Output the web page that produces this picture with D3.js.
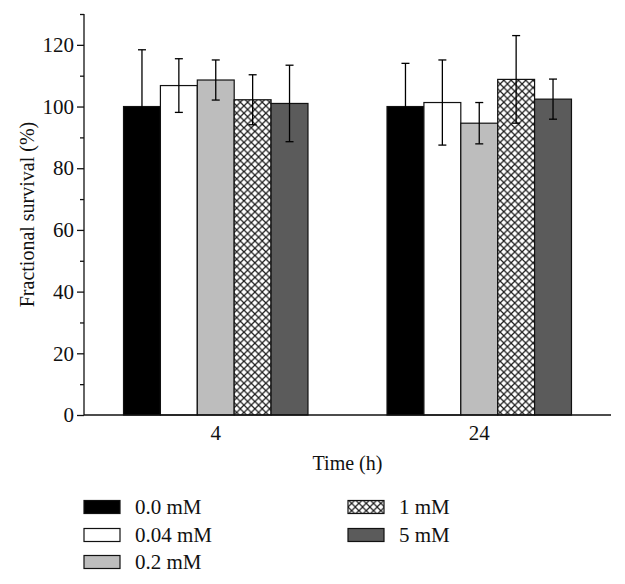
<!DOCTYPE html>
<html>
<head>
<meta charset="utf-8">
<script src="https://cdn.jsdelivr.net/npm/d3@7"></script>
<style>
  body { margin: 0; background: #fff; }
  text { font-family: "Liberation Serif", "DejaVu Serif", serif; fill: #111; }
</style>
</head>
<body>
<svg id="chart" width="625" height="584"></svg>
<script>
// data
var times = ["4", "24"];
var doses = ["0.0 mM", "0.04 mM", "0.2 mM", "1 mM", "5 mM"];
var means = [
  [100, 106.8, 108.6, 102.2, 101.0],   // 4 h
  [100, 101.3, 94.6, 108.8, 102.4]     // 24 h
];
var errs = [
  [18.4, 8.7, 6.5, 8.1, 12.4],
  [14.0, 13.8, 6.7, 14.2, 6.5]
];
var yTicks = [0, 20, 40, 60, 80, 100, 120];

var fills = ["#000", "#fff", "#bdbdbd", "url(#xhatch)", "#5b5b5b"];

var svg = d3.select("#chart");
// note: "top" is taken by window.top, so plot edges get their own names
var plotL = 84, plotR = 611, plotT = 14, plotB = 415;

// crosshatch pattern for the 1 mM bars
var pat = svg.append("defs").append("pattern")
  .attr("id", "xhatch")
  .attr("patternUnits", "userSpaceOnUse")
  .attr("width", 7.3).attr("height", 7.3);
pat.append("rect").attr("width", 7.3).attr("height", 7.3).attr("fill", "#fff");
pat.append("path")
  .attr("d", "M0,0L7.3,7.3M7.3,0L0,7.3")
  .attr("stroke", "#1a1a1a").attr("stroke-width", 1.2);

var x = d3.scaleBand().domain(times).range([plotL, plotR]).paddingInner(0.3).paddingOuter(0.15);
var xi = d3.scaleBand().domain(doses).range([0, x.bandwidth()]);
var y = d3.scaleLinear().domain([0, 130]).range([plotB, plotT]);

// y axis, major + minor ticks
svg.append("g")
  .attr("transform", "translate(" + plotL + ",0)")
  .call(d3.axisLeft(y).tickValues(d3.range(10, 140, 20)).tickSize(4).tickFormat(""))
  .call(g => g.select(".domain").remove());
svg.append("g")
  .attr("transform", "translate(" + plotL + ",0)")
  .call(d3.axisLeft(y).tickValues(yTicks).tickSize(7).tickPadding(3))
  .call(g => g.select(".domain").attr("d", "M0," + y(130) + "V" + y(0)))
  .call(g => g.selectAll("text").style("font-size", "21px").attr("font-family", null));

svg.selectAll(".tick line, .domain").attr("stroke", "#111").attr("stroke-width", 1.3);

// bars
var grp = svg.selectAll(".grp")
  .data(times)
  .join("g")
  .attr("class", "grp")
  .attr("transform", d => "translate(" + x(d) + ",0)");

grp.selectAll("rect")
  .data((d, i) => doses.map((k, j) => ({ k: k, j: j, v: means[i][j], e: errs[i][j] })))
  .join("rect")
  .attr("x", d => xi(d.k))
  .attr("y", d => y(d.v))
  .attr("width", xi.bandwidth())
  .attr("height", d => y(0) - y(d.v))
  .attr("fill", d => fills[d.j])
  .attr("stroke", "#111")
  .attr("stroke-width", 1.2);

// error bars
var eb = grp.selectAll(".eb")
  .data((d, i) => doses.map((k, j) => ({ k: k, v: means[i][j], e: errs[i][j] })))
  .join("g")
  .attr("class", "eb")
  .attr("stroke", "#000").attr("stroke-width", 1.3);
eb.append("line")
  .attr("x1", d => xi(d.k) + xi.bandwidth() / 2)
  .attr("x2", d => xi(d.k) + xi.bandwidth() / 2)
  .attr("y1", d => y(d.v + d.e))
  .attr("y2", d => y(d.v - d.e));
[1, -1].forEach(function(s) {
  eb.append("line")
    .attr("x1", d => xi(d.k) + xi.bandwidth() / 2 - 4)
    .attr("x2", d => xi(d.k) + xi.bandwidth() / 2 + 4)
    .attr("y1", d => y(d.v + s * d.e))
    .attr("y2", d => y(d.v + s * d.e));
});

// x axis line (no ticks)
svg.append("line")
  .attr("x1", plotL).attr("x2", plotR)
  .attr("y1", plotB).attr("y2", plotB)
  .attr("stroke", "#111").attr("stroke-width", 1.3);

svg.selectAll(".xlab")
  .data(times)
  .join("text")
  .attr("class", "xlab")
  .attr("x", d => x(d) + x.bandwidth() / 2)
  .attr("y", plotB + 25)
  .attr("text-anchor", "middle")
  .style("font-size", "21px")
  .text(d => d);

svg.append("text")
  .attr("x", (plotL + plotR) / 2)
  .attr("y", 470)
  .attr("text-anchor", "middle")
  .style("font-size", "20px")
  .text("Time (h)");

svg.append("text")
  .attr("transform", "translate(34," + (plotB + plotT) / 2 + ") rotate(-90)")
  .attr("text-anchor", "middle")
  .style("font-size", "20px")
  .text("Fractional survival (%)");

// legend
var legX = [84, 348], legY = [507, 535, 562];
var leg = svg.selectAll(".leg")
  .data(doses)
  .join("g")
  .attr("class", "leg")
  .attr("transform", (d, i) => "translate(" + legX[Math.floor(i / 3)] + "," + legY[i % 3] + ")");
leg.append("rect")
  .attr("x", 0).attr("y", -6.5)
  .attr("width", 36).attr("height", 13)
  .attr("fill", (d, i) => fills[i])
  .attr("stroke", "#111").attr("stroke-width", 1.2);
leg.append("text")
  .attr("x", 51).attr("y", 6.5)
  .style("font-size", "21px")
  .text(d => d);
</script>
</body>
</html>
